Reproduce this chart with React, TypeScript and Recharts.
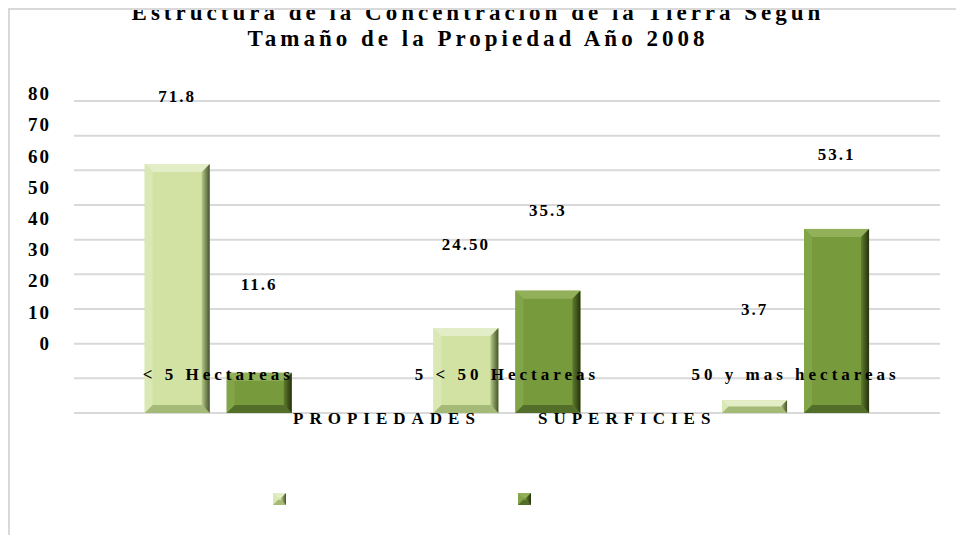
import React from 'react';
import { BarChart, Bar, XAxis, YAxis, CartesianGrid, Legend, LabelList } from 'recharts';

const titleLines = ['Estructura de la Concentración de la Tierra Según', 'Tamaño de la Propiedad Año 2008'];
const categories = ['< 5 Hectareas', '5 < 50 Hectareas', '50 y mas hectareas'];
const propiedades = [71.8, 24.5, 3.7];
const superficies = [11.6, 35.3, 53.1];
const propiedadesText = ['71.8', '24.50', '3.7'];
const superficiesText = ['11.6', '35.3', '53.1'];
const seriesNames = ['PROPIEDADES', 'SUPERFICIES'];
const gridTicks = [0, 10, 20, 30, 40, 50, 60, 70, 80, 90];
const labelTicks = [0, 10, 20, 30, 40, 50, 60, 70, 80];

const data = categories.map((name, i) => ({
  name,
  prop: propiedades[i],
  sup: superficies[i],
  propText: propiedadesText[i],
  supText: superficiesText[i],
}));

const FONT = '"Liberation Serif", "Times New Roman", serif';

const LIGHT = { id: 'lt', base: '#d1e2a2', top: '#e3edc8', left: '#dae8b3', bottom: '#a6ba78', r1: '#b6ca88', r2: '#44532a' };
const DARK = { id: 'dk', base: '#779a3c', top: '#92b05a', left: '#83a549', bottom: '#536e29', r1: '#607d2d', r2: '#26320e' };
const palettes = [LIGHT, DARK];

function Bevel({ x, y, width, height, pal, b }: any) {
  const w = width, h = height;
  const P = pal || LIGHT;
  return (
    <g>
      <rect x={x} y={y} width={w} height={h} fill={P.base} />
      <polygon points={`${x},${y} ${x + w},${y} ${x + w - b},${y + b} ${x + b},${y + b}`} fill={P.top} />
      <polygon points={`${x},${y} ${x + b},${y + b} ${x + b},${y + h - b} ${x},${y + h}`} fill={P.left} />
      <polygon points={`${x},${y + h} ${x + w},${y + h} ${x + w - b},${y + h - b} ${x + b},${y + h - b}`} fill={P.bottom} />
      <polygon points={`${x + w},${y} ${x + w},${y + h} ${x + w - b},${y + h - b} ${x + w - b},${y + b}`} fill={`url(#grad-${P.id})`} />
    </g>
  );
}

function GradStops({ pal }: any) {
  return (
    <linearGradient id={`grad-${pal.id}`} x1="0" y1="0" x2="1" y2="0">
      <stop offset="0%" stopColor={pal.r1} />
      <stop offset="100%" stopColor={pal.r2} />
    </linearGradient>
  );
}

const makeShape = (pal: any) => (props: any) => {
  const { x, y, width, height } = props;
  if (!height || height <= 0) return <g />;
  const b = Math.min(8, width / 4, height / 2);
  return <Bevel x={x} y={y} width={width} height={height} pal={pal} b={b} />;
};

const renderCatTick = (props: any) => {
  const { x, y, payload } = props;
  return (
    <text x={x} y={y} dy={-63} textAnchor="middle" fill="#000" fontSize={17} fontWeight="bold" fontFamily={FONT} style={{ letterSpacing: '4px' }}>
      {payload && payload.value}
    </text>
  );
};

const LEGEND_X0 = 273;
const LEGEND_STEP = 245;

const renderLegend = (props: any) => {
  const payload = (props && props.payload) || [];
  const items = payload.filter((p: any) => seriesNames.indexOf(p.value) >= 0);
  return (
    <div style={{ position: 'relative', width: 956, height: 535 }}>
      {items.map((p: any) => {
        const i = seriesNames.indexOf(p.value);
        const left = LEGEND_X0 + i * LEGEND_STEP;
        const pal = palettes[i];
        return (
          <React.Fragment key={p.value}>
            <svg style={{ position: 'absolute', left, top: 493 }} width={14} height={13}>
              <Bevel x={0} y={0} width={13} height={12} pal={pal} b={5} />
            </svg>
            <div
              style={{
                position: 'absolute',
                left: left + 20,
                top: 409,
                fontFamily: FONT,
                fontWeight: 'bold',
                fontSize: 17,
                lineHeight: '20px',
                letterSpacing: 6,
                whiteSpace: 'nowrap',
                color: '#000',
              }}
            >
              {p.value}
            </div>
          </React.Fragment>
        );
      })}
    </div>
  );
};

export default function App() {
  return (
    <div style={{ position: 'relative', width: 956, height: 535, overflow: 'hidden', background: '#fff' }}>
      <style>{`html,body{margin:0;padding:0;overflow:hidden;background:#fff}`}</style>
      <svg width={0} height={0} style={{ position: 'absolute' }}>
        <defs>
          {palettes.map((p) => (
            <GradStops key={p.id} pal={p} />
          ))}
        </defs>
      </svg>
      <div
        style={{
          position: 'absolute',
          left: 8,
          top: 8,
          width: 1000,
          height: 600,
          borderLeft: '2px solid #d9d9d9',
          borderTop: '2px solid #d9d9d9',
        }}
      />
      <div style={{ position: 'absolute', left: 0, top: 10, width: 956, height: 60, overflow: 'hidden' }}>
        <div
          style={{
            position: 'absolute',
            left: 0,
            top: -9.8,
            width: 956,
            textAlign: 'center',
            fontFamily: FONT,
            fontWeight: 'bold',
            fontSize: 23,
            lineHeight: '26px',
            letterSpacing: 4,
            color: '#000',
          }}
        >
          {titleLines.map((t) => (
            <div key={t}>{t}</div>
          ))}
        </div>
      </div>
      <div style={{ position: 'absolute', left: 0, top: 0 }}>
        <BarChart
          width={956}
          height={535}
          data={data}
          margin={{ top: 101, right: 16, bottom: 92, left: 0 }}
          barCategoryGap="24.5%"
          barGap={17}
        >
          <CartesianGrid vertical={false} xAxisId="main" yAxisId="main" stroke="#d9d9d9" strokeWidth={2} />
          <XAxis
            xAxisId="main"
            dataKey="name"
            height={30}
            axisLine={false}
            tickLine={false}
            tickSize={0}
            tickMargin={0}
            interval={0}
            tick={renderCatTick}
          />
          <XAxis xAxisId="lbl" dataKey="name" hide />
          <YAxis yAxisId="main" hide domain={[0, 90]} ticks={gridTicks} allowDataOverflow />
          <YAxis
            yAxisId="lbl"
            orientation="left"
            width={74}
            domain={[-22.4, 77.6]}
            ticks={labelTicks}
            interval={0}
            allowDataOverflow
            axisLine={false}
            tickLine={false}
            tickSize={0}
            tickMargin={23}
            tick={{ fill: '#000', fontSize: 19, fontWeight: 'bold', fontFamily: FONT, letterSpacing: 2 }}
          />
          <Legend
            verticalAlign="middle"
            layout="horizontal"
            align="center"
            wrapperStyle={{ left: 0, top: 0, width: 956, height: 535, pointerEvents: 'none' }}
            content={renderLegend}
          />
          <Bar xAxisId="main" yAxisId="main" dataKey="prop" name={seriesNames[0]} fill={LIGHT.base} shape={makeShape(LIGHT)} isAnimationActive={false} />
          <Bar xAxisId="main" yAxisId="main" dataKey="sup" name={seriesNames[1]} fill={DARK.base} shape={makeShape(DARK)} isAnimationActive={false} />
          <Bar xAxisId="lbl" yAxisId="lbl" dataKey="prop" fill="transparent" legendType="none" isAnimationActive={false}>
            <LabelList dataKey="propText" position="top" offset={17} fill="#000" fontSize={17} fontWeight="bold" fontFamily={FONT} letterSpacing={2} />
          </Bar>
          <Bar xAxisId="lbl" yAxisId="lbl" dataKey="sup" fill="transparent" legendType="none" isAnimationActive={false}>
            <LabelList dataKey="supText" position="top" offset={17} fill="#000" fontSize={17} fontWeight="bold" fontFamily={FONT} letterSpacing={2} />
          </Bar>
        </BarChart>
      </div>
    </div>
  );
}
